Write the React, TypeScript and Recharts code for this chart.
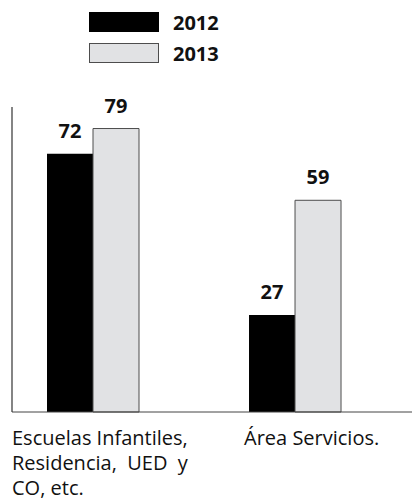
import { Bar, BarChart, LabelList, Legend, XAxis, YAxis } from "recharts";

// x positions of the two groups (numeric axis so groups can sit off-center like the original)
const positions = [0, 1];
const categoryLines = [
  ["Escuelas Infantiles,", "Residencia,  UED  y", "CO, etc."],
  ["Área Servicios."],
];
const values2012 = [72, 27];
const values2013 = [79, 59];
const seriesNames = ["2012", "2013"];

const data = positions.map((pos, i) => ({
  pos,
  y2012: values2012[i],
  y2013: values2013[i],
}));

const FONT = "'Open Sans', 'Noto Sans', sans-serif";
const labelShift = [-81, -51];

const CategoryTick = ({ x, y, payload, index }: any) => {
  const lines = categoryLines[payload.value] ?? [];
  const left = x + (labelShift[index] ?? 0);
  return (
    <text
      x={left}
      y={y}
      fill="#111"
      fontSize={20}
      fontFamily={FONT}
      textAnchor="start"
      style={{ whiteSpace: "pre" }}
    >
      {lines.map((line, i) => (
        <tspan key={i} x={left} dy={25}>
          {line}
        </tspan>
      ))}
    </text>
  );
};

const swatches = [
  { fill: "#000", border: "1px solid #000" },
  { fill: "#e1e2e4", border: "1px solid #4d4d4d" },
];

const renderLegend = () => (
  <div style={{ fontFamily: FONT }}>
    {seriesNames.map((name, i) => (
      <div
        key={name}
        style={{ display: "flex", alignItems: "center", height: 20, marginBottom: 11 }}
      >
        <div
          style={{
            width: 70,
            height: 20,
            boxSizing: "border-box",
            background: swatches[i].fill,
            border: swatches[i].border,
          }}
        />
        <span style={{ marginLeft: 14, fontSize: 20, fontWeight: 700, color: "#111" }}>{name}</span>
      </div>
    ))}
  </div>
);

const App = () => {
  return (
    <>
      <style>{"body{margin:0}"}</style>
      <BarChart
        width={412}
        height={502}
        data={data}
        margin={{ top: 107, right: 0, left: 0, bottom: 0 }}
        barGap={0}
        barSize={46}
      >
        <XAxis
          type="number"
          dataKey="pos"
          domain={[-0.401, 1.579]}
          allowDataOverflow
          ticks={positions}
          interval={0}
          tickLine={false}
          axisLine={{ stroke: "#444" }}
          height={90}
          tick={<CategoryTick />}
        />
        <YAxis
          width={12}
          domain={[0, 85]}
          tick={false}
          tickLine={false}
          axisLine={{ stroke: "#333", strokeWidth: 1.2 }}
        />
        <Legend
          layout="horizontal"
          verticalAlign="middle"
          content={renderLegend}
          wrapperStyle={{ position: "absolute", top: 12, left: 89, width: 200, height: 60 }}
        />
        <Bar dataKey="y2012" name="2012" fill="#000" isAnimationActive={false}>
          <LabelList
            dataKey="y2012"
            position="top"
            offset={16}
            fill="#111"
            fontSize={20}
            fontWeight={700}
            fontFamily={FONT}
          />
        </Bar>
        <Bar
          dataKey="y2013"
          name="2013"
          fill="#e1e2e4"
          stroke="#4d4d4d"
          strokeWidth={1}
          isAnimationActive={false}
        >
          <LabelList
            dataKey="y2013"
            position="top"
            offset={16}
            fill="#111"
            fontSize={20}
            fontWeight={700}
            fontFamily={FONT}
          />
        </Bar>
      </BarChart>
    </>
  );
};

export default App;
